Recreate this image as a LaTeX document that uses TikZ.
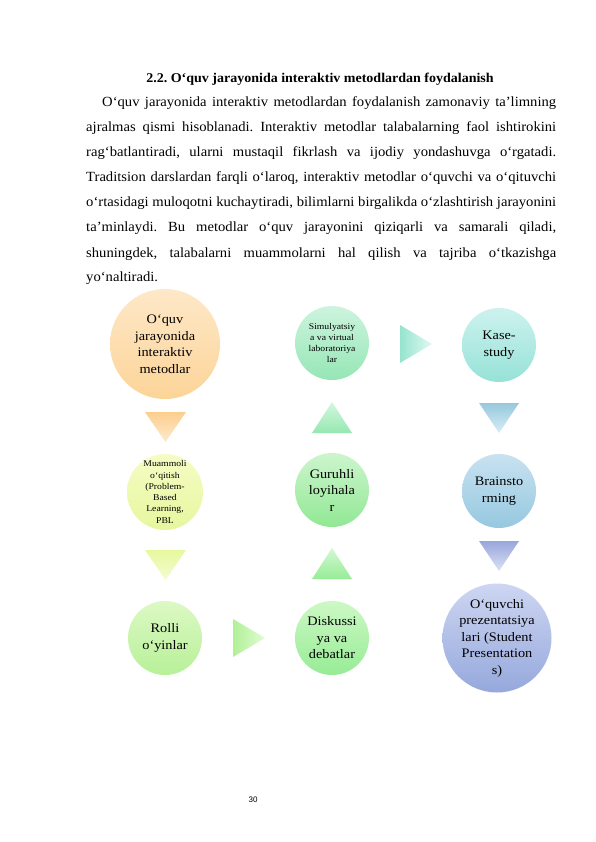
\documentclass[tikz,border=0pt]{standalone}
\usepackage{fontspec}
\setmainfont{Liberation Serif}[FakeStretch=1.045]
\newfontfamily\circfont{Liberation Serif}[FakeStretch=1.1]
\newfontfamily\pnfont{Liberation Sans}
\frenchspacing
\begin{document}
\begin{tikzpicture}[x=1pt,y=-1pt,
  bodyline/.style={anchor=base west, inner sep=0pt, font=\fontsize{14}{16}\selectfont},
  circ/.style={circle, inner sep=0pt, minimum size=#1, align=center},
  bigtxt/.style={font=\circfont\fontsize{13}{16.5}\selectfont},
  smalltxt/.style={font=\circfont\fontsize{8.8}{11.3}\selectfont}
]
\useasboundingbox (0,0) rectangle (595,842);
\fill[white] (0,0) rectangle (595,842);

% title and paragraph
\node[anchor=base, inner sep=0pt, font=\bfseries\fontsize{13.4}{15}\selectfont] (title) at (320,83) {2.2. O‘quv jarayonida interaktiv metodlardan foydalanish};
\node[bodyline] (l1) at (102,107) {\makebox[454pt][s]{O‘quv jarayonida interaktiv metodlardan foydalanish zamonaviy ta’limning}};
\node[bodyline] (l2) at (86,132) {\makebox[470pt][s]{ajralmas qismi hisoblanadi. Interaktiv metodlar talabalarning faol ishtirokini}};
\node[bodyline] (l3) at (86,157) {\makebox[470pt][s]{rag‘batlantiradi, ularni mustaqil fikrlash va ijodiy yondashuvga o‘rgatadi.}};
\node[bodyline] (l4) at (86,182) {\makebox[470pt][s]{Traditsion darslardan farqli o‘laroq, interaktiv metodlar o‘quvchi va o‘qituvchi}};
\node[bodyline] (l5) at (86,207) {\makebox[470pt][s]{o‘rtasidagi muloqotni kuchaytiradi, bilimlarni birgalikda o‘zlashtirish jarayonini}};
\node[bodyline] (l6) at (86,232) {\makebox[470pt][s]{ta’minlaydi. Bu metodlar o‘quv jarayonini qiziqarli va samarali qiladi,}};
\node[bodyline] (l7) at (86,257) {\makebox[470pt][s]{shuningdek, talabalarni muammolarni hal qilish va tajriba o‘tkazishga}};
\node[bodyline] (l8) at (86,281) {yo‘naltiradi.};

% circles
\node[circ=110pt, bigtxt, top color={rgb,255:red,254;green,232;blue,200}, bottom color={rgb,255:red,252;green,212;blue,152}] (c1) at (165,344)
  {O‘quv\\jarayonida\\interaktiv\\metodlar};
\node[circ=74pt, smalltxt, top color={rgb,255:red,205;green,244;blue,222}, bottom color={rgb,255:red,150;green,230;blue,182}] (c2) at (332,343)
  {Simulyatsiy\\a va virtual\\laboratoriya\\lar};
\node[circ=74pt, bigtxt, top color={rgb,255:red,205;green,242;blue,238}, bottom color={rgb,255:red,150;green,226;blue,216}] (c3) at (499,345)
  {Kase-\\study};
\node[circ=74pt, smalltxt, top color={rgb,255:red,246;green,252;blue,196}, bottom color={rgb,255:red,230;green,247;blue,158}] (c4) at (165,492)
  {Muammoli\\o‘qitish\\(Problem-\\Based\\Learning,\\PBL};
\node[circ=74pt, bigtxt, top color={rgb,255:red,205;green,245;blue,205}, bottom color={rgb,255:red,145;green,232;blue,148}] (c5) at (332,490)
  {Guruhli\\loyihala\\r};
\node[circ=74pt, bigtxt, top color={rgb,255:red,200;green,226;blue,240}, bottom color={rgb,255:red,150;green,200;blue,224}] (c6) at (499,491)
  {Brainsto\\rming};
\node[circ=74pt, bigtxt, top color={rgb,255:red,220;green,249;blue,196}, bottom color={rgb,255:red,184;green,240;blue,152}] (c7) at (165,638)
  {Rolli\\o‘yinlar};
\node[circ=74pt, bigtxt, top color={rgb,255:red,205;green,248;blue,196}, bottom color={rgb,255:red,150;green,236;blue,150}] (c8) at (332,638)
  {Diskussi\\ya va\\debatlar};
\node[circ=109pt, bigtxt, top color={rgb,255:red,205;green,214;blue,242}, bottom color={rgb,255:red,150;green,168;blue,220}] (c9) at (497,638)
  {O‘quvchi\\prezentatsiya\\lari (Student\\Presentation\\s)};

% arrow triangles
\shade[top color={rgb,255:red,252;green,206;blue,142}, bottom color={rgb,255:red,254;green,234;blue,204}] (145,412) -- (186,412) -- (165.5,442) -- cycle;
\shade[top color={rgb,255:red,230;green,248;blue,158}, bottom color={rgb,255:red,244;green,252;blue,210}] (145,550) -- (186,550) -- (165.5,580) -- cycle;
\shade[bottom color={rgb,255:red,150;green,232;blue,176}, top color={rgb,255:red,212;green,246;blue,224}] (312,433) -- (352,433) -- (332,402) -- cycle;
\shade[bottom color={rgb,255:red,150;green,236;blue,150}, top color={rgb,255:red,212;green,248;blue,212}] (312,579) -- (352,579) -- (332,548) -- cycle;
\shade[top color={rgb,255:red,150;green,200;blue,220}, bottom color={rgb,255:red,216;green,238;blue,246}] (479,403) -- (519,403) -- (499,433) -- cycle;
\shade[top color={rgb,255:red,152;green,166;blue,218}, bottom color={rgb,255:red,218;green,226;blue,246}] (479,541) -- (519,541) -- (499,571) -- cycle;
\shade[left color={rgb,255:red,150;green,228;blue,206}, right color={rgb,255:red,226;green,248;blue,242}] (400,325) -- (400,363) -- (432,344) -- cycle;
\shade[left color={rgb,255:red,176;green,240;blue,150}, right color={rgb,255:red,226;green,252;blue,212}] (233,619) -- (233,657) -- (265,638) -- cycle;

% page number
\node[font=\pnfont\fontsize{8}{10}\selectfont, inner sep=0pt] (pnum) at (253,800) {30};
\end{tikzpicture}
\end{document}
